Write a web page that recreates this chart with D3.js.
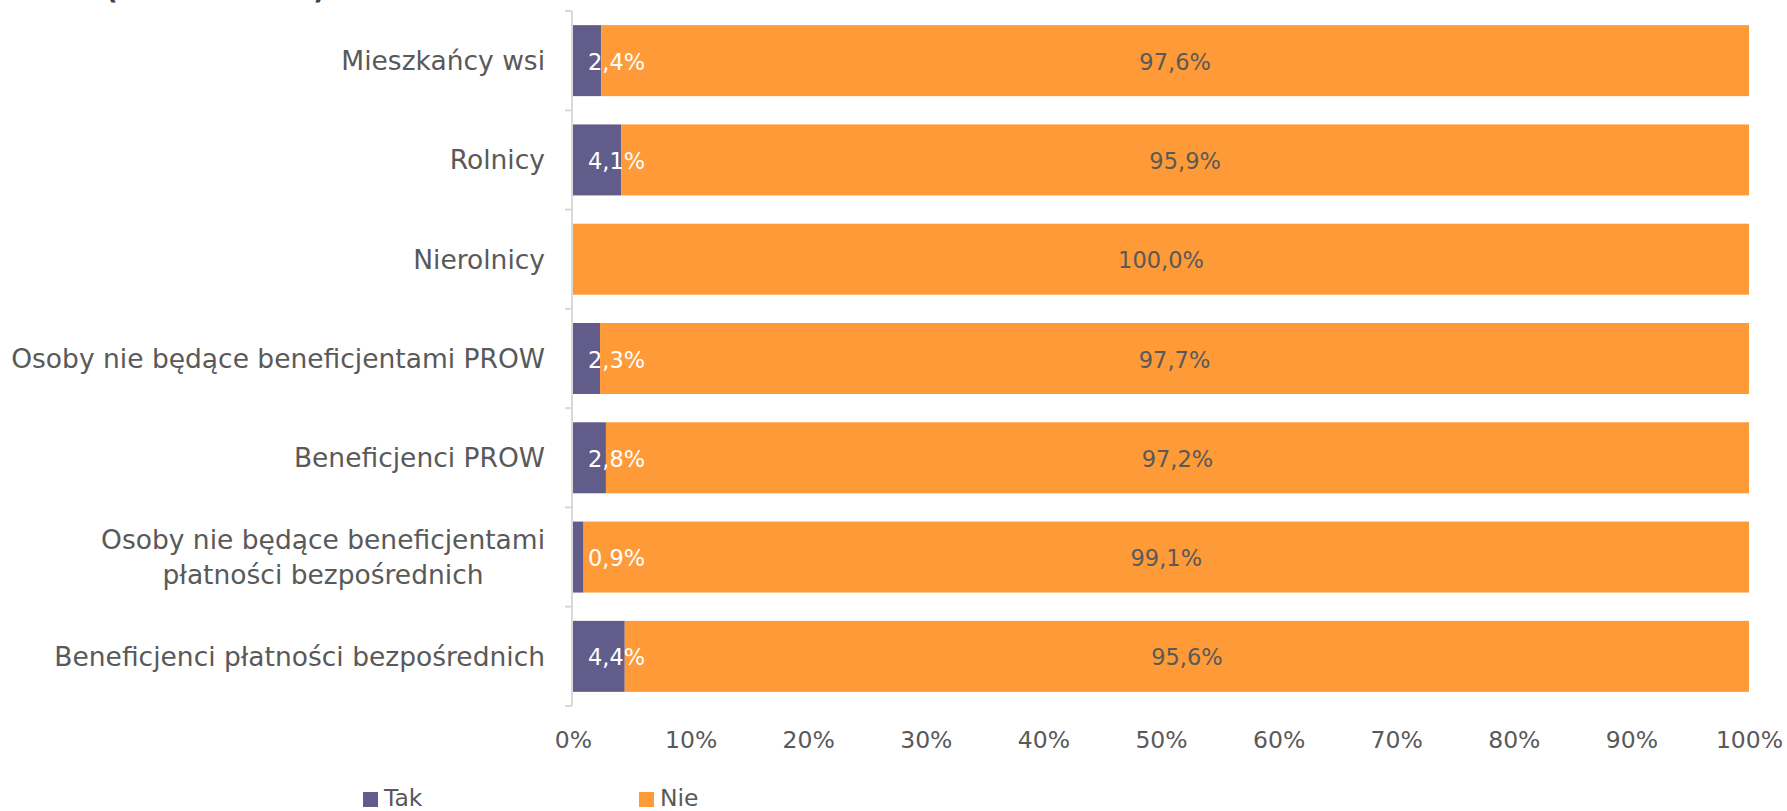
<!DOCTYPE html>
<html><head><meta charset="utf-8">
<script src="https://cdn.jsdelivr.net/npm/d3@7"></script>
<style>
html,body{margin:0;padding:0;background:#fff;overflow:hidden;}
text{font-family:"DejaVu Sans",sans-serif;}
</style></head>
<body><svg id="c" width="1787" height="811"></svg>
<script>
const categories = [
  "Mieszkańcy wsi",
  "Rolnicy",
  "Nierolnicy",
  "Osoby nie będące beneficjentami PROW",
  "Beneficjenci PROW",
  "Osoby nie będące beneficjentami|płatności bezpośrednich",
  "Beneficjenci płatności bezpośrednich"
];
const seriesNames = ["Tak", "Nie"];
const takValues = [0.024, 0.041, 0.000, 0.023, 0.028, 0.009, 0.044];
const nieValues = [0.976, 0.959, 1.000, 0.977, 0.972, 0.991, 0.956];
const xTicks = [0,0.1,0.2,0.3,0.4,0.5,0.6,0.7,0.8,0.9,1.0];
const colors = {Tak:"#625c8b", Nie:"#fe9a37"};

const svg = d3.select("#c");
const textColor = "#595959";
const loc = d3.formatLocale({decimal:",", thousands:" ", grouping:[3], currency:["","zł"]});
const fmtLabel = loc.format(".1%");
const fmtTick = loc.format(".0%");

const x = d3.scaleLinear().domain([0,1]).range([573,1749]);
const y = d3.scaleBand().domain(categories).range([11,706]).paddingInner(0.285).paddingOuter(0.1425);

// partially visible title (cut off at the top)
svg.append("text").attr("x",105).attr("y",-1).attr("font-size",28).attr("font-weight","bold").attr("fill","#404040").text("(");
svg.append("text").attr("x",313).attr("y",-1).attr("font-size",28).attr("font-weight","bold").attr("fill","#404040").text(")");

// y axis line with ticks at boundaries
const axisG = svg.append("g");
axisG.append("line").attr("x1",572).attr("x2",572).attr("y1",11).attr("y2",706).attr("stroke","#d9d9d9").attr("stroke-width",2);
const bounds = categories.map(c=>y(c)-y.step()*y.paddingInner()/2).concat([706]);
bounds[0]=11;
axisG.selectAll("line.tk").data(bounds).join("line").attr("class","tk")
  .attr("x1",565).attr("x2",572).attr("y1",d=>d).attr("y2",d=>d)
  .attr("stroke","#d9d9d9").attr("stroke-width",2);

// category labels
categories.forEach(c=>{
  const lines = c.split("|");
  const cy = y(c)+y.bandwidth()/2;
  const t = svg.append("text").attr("text-anchor","middle").attr("font-size",26.5).attr("fill",textColor);
  const lh = 35;
  lines.forEach((ln,i)=>{
    t.append("tspan").attr("x",0).attr("y", cy + (i-(lines.length-1)/2)*lh + 9.5).text(ln);
  });
  const bb = t.node().getBBox();
  t.selectAll("tspan").attr("x", 545 - bb.width/2);
});

// bars
const rows = categories.map((c,i)=>({c, tak:takValues[i], nie:nieValues[i]}));
const g = svg.append("g");
rows.forEach(r=>{
  g.append("rect").attr("x",x(0)).attr("y",y(r.c)).attr("width",x(r.tak)-x(0)).attr("height",y.bandwidth()).attr("fill",colors.Tak);
  g.append("rect").attr("x",x(r.tak)).attr("y",y(r.c)).attr("width",x(r.tak+r.nie)-x(r.tak)).attr("height",y.bandwidth()).attr("fill",colors.Nie);
});
// labels
rows.forEach(r=>{
  const cy = y(r.c)+y.bandwidth()/2+9;
  if (r.tak>0) {
    svg.append("text").attr("x",x(0)+15).attr("y",cy).attr("font-size",22.5).attr("fill","#ffffff").text(fmtLabel(r.tak));
  }
  svg.append("text").attr("x",(x(r.tak)+x(r.tak+r.nie))/2).attr("y",cy).attr("text-anchor","middle").attr("font-size",22.5).attr("fill",textColor).text(fmtLabel(r.nie));
});

// x axis tick labels
const xAxis = d3.axisBottom(x).tickValues(xTicks).tickFormat(fmtTick).tickSize(0).tickPadding(0);
const xg = svg.append("g").attr("transform","translate(0,720)").call(xAxis);
xg.select(".domain").remove();
xg.selectAll("text").attr("font-size",23.5).attr("fill",textColor).attr("font-family","'DejaVu Sans', sans-serif").attr("dy",null).attr("y",28);

// legend
const legX = [363, 639];
seriesNames.forEach((s,i)=>{
  svg.append("rect").attr("x",legX[i]).attr("y",792).attr("width",15).attr("height",15).attr("fill",colors[s]);
  svg.append("text").attr("x",legX[i]+21).attr("y",806).attr("font-size",23.5).attr("fill",textColor).text(s);
});
</script></body></html>
